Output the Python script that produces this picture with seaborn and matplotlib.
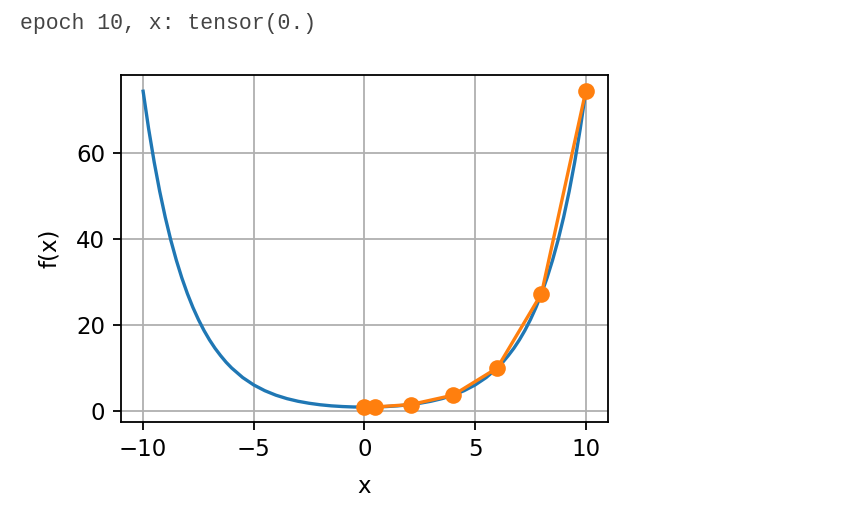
import numpy as np
import pandas as pd
import matplotlib
matplotlib.use("Agg")
import matplotlib.pyplot as plt
import seaborn as sns

# curve f(x) (denser where it is steep)
curve_x = [-10, -9.75, -9.5, -9.25, -9, -8.75, -8.5, -8.25, -8, -7.75, -7.5, -7.25, -7, -6.75, -6.5, -6.25,
           -6, -5.5, -5, -4.5, -4, -3.5, -3, -2.5, -2, -1.5, -1, -0.5,
           0, 0.5, 1, 1.5, 2, 2.5, 3, 3.5, 4, 4.5, 5, 5.5,
           6, 6.25, 6.5, 6.75, 7, 7.25, 7.5, 7.75, 8, 8.25, 8.5, 8.75, 9, 9.25, 9.5, 9.75, 10]
curve_y = [74.21, 65.49, 57.79, 51.00, 45.01, 39.72, 35.06, 30.94, 27.31, 24.10, 21.28, 18.77, 16.57, 14.63,
           12.94, 11.40, 10.07, 7.85, 6.13, 4.80, 3.76, 2.96, 2.35, 1.89, 1.54, 1.29, 1.13, 1.03,
           1.00, 1.03, 1.13, 1.29, 1.54, 1.89, 2.35, 2.96, 3.76, 4.80, 6.13, 7.85,
           10.07, 11.40, 12.94, 14.63, 16.57, 18.77, 21.28, 24.10, 27.31, 30.94, 35.06, 39.72, 45.01, 51.00,
           57.79, 65.49, 74.21]

# trace of x over the epochs
trace_x = [10, 8, 6, 4, 2.1, 0.5, 0]
trace_y = [74.21, 27.31, 10.07, 3.76, 1.60, 1.03, 1.00]

plt.rcParams["font.family"] = ["DejaVu Sans"]

fig = plt.figure(figsize=(8.49, 5.13), dpi=100)
ax = fig.add_axes([0.1425, 0.177, 0.5735, 0.677])

curve = pd.DataFrame({"x": curve_x, "f(x)": curve_y})
trace = pd.DataFrame({"x": trace_x, "f(x)": trace_y})
sns.lineplot(data=curve, x="x", y="f(x)", color="#1f77b4", linewidth=2.4, ax=ax)
sns.lineplot(data=trace, x="x", y="f(x)", color="#ff7f0e", linewidth=2.4, sort=False,
             marker="o", markersize=12, markeredgewidth=0, ax=ax)

ax.set_xlim(-11, 11)
ax.set_ylim(-2.5, 78)
ax.set_xticks([-10, -5, 0, 5, 10])
ax.set_yticks([0, 20, 40, 60])
ax.grid(True, color="#b0b0b0", linewidth=1.3)
ax.tick_params(labelsize=16.5, width=1.3, length=5.8, pad=5.6, colors="black")
ax.set_xlabel("x", fontsize=16.5, labelpad=10)
ax.set_ylabel("f(x)", fontsize=16.5, labelpad=11)
for s in ax.spines.values():
    s.set_linewidth(1.3)
    s.set_color("black")

fig.text(20 / 849, 1 - 29 / 513, "epoch 10, x: tensor(0.)", fontsize=15.5,
         family=["Liberation Mono"], color="#444444")

fig.savefig("out.png", dpi=100)
